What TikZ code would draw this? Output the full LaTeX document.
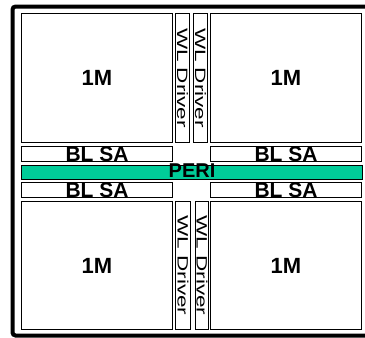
\documentclass[tikz,border=0pt]{standalone}
\usepackage{fontspec}
\setmainfont{Liberation Sans}
\usetikzlibrary{positioning}
\usepackage{xcolor}
\definecolor{perigreen}{RGB}{0,204,153}

\begin{document}
\begin{tikzpicture}[x=1pt, y=-1pt, line width=1.5pt,
    box/.style={draw, fill=white, inner sep=0pt, outer sep=0pt},
    mem/.style={box, minimum width=151pt, minimum height=129pt, font=\fontsize{22}{22}\selectfont\bfseries},
    wl/.style={box, minimum width=14pt, minimum height=129pt, font=\fontsize{15}{15}\selectfont},
    sa/.style={box, minimum width=151pt, minimum height=15pt, font=\fontsize{21}{21}\selectfont\bfseries},
    peri/.style={box, fill=perigreen, minimum width=341pt, minimum height=14pt, font=\fontsize{20}{20}\selectfont\bfseries}]
    \useasboundingbox (0,0) rectangle (365,338);
    % outer frame, open on the right
    \draw[line width=4pt, rounded corners=3pt] (365,6.5) -- (12.5,6.5) -- (12.5,335.5) -- (365,335.5);

    % upper half
    \node[mem] (tl) at (97,78) {1M};
    \node[wl, right=3pt of tl] (wltl) {\rotatebox{-90}{\scalebox{1.5}[1]{WL Driver}}};
    \node[wl, right=4pt of wltl] (wltr) {\rotatebox{-90}{\scalebox{1.5}[1]{WL Driver}}};
    \node[mem, right=3pt of wltr] (tr) {1M};
    \node[sa, below=4pt of tl] (satl) {BL SA};
    \node[sa, below=4pt of tr] (satr) {BL SA};

    \node[peri, below=4pt of satl.south west, anchor=north west] (peri) {\raisebox{-5pt}[0pt][0pt]{PERI}};

    % lower half
    \node[sa, below=3pt of peri.south west, anchor=north west] (sabl) {BL SA};
    \node[sa] (sabr) at (sabl -| tr) {BL SA};
    \node[mem, below=4pt of sabl, minimum height=128pt] (bl) {1M};
    \node[mem, minimum height=128pt] (br) at (bl -| tr) {1M};
    \node[wl, minimum height=128pt, minimum width=15pt, right=3pt of bl] (wlbl) {\rotatebox{-90}{\scalebox{1.5}[1]{WL Driver}}};
    \node[wl, minimum height=128pt, minimum width=13pt, right=5pt of wlbl] (wlbr) {\rotatebox{-90}{\scalebox{1.5}[1]{WL Driver}}};
\end{tikzpicture}
\end{document}
